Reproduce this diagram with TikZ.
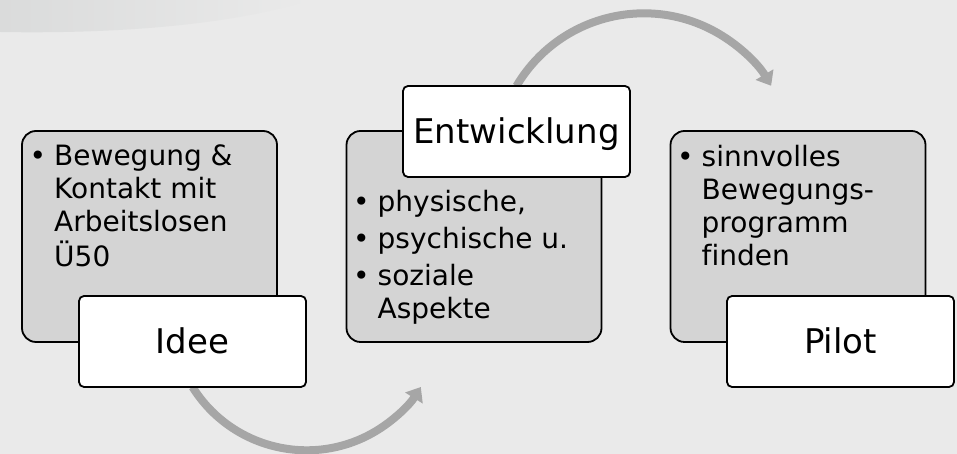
\documentclass[tikz,border=0pt]{standalone}
\usepackage{fontspec}
\setmainfont{DejaVu Sans}[Ligatures=NoCommon]
\usetikzlibrary{arrows.meta,backgrounds}

\definecolor{bgcol}{RGB}{234,234,234}
\definecolor{bandgray}{RGB}{218,219,219}
\definecolor{panelgray}{RGB}{212,212,212}
\definecolor{arrowgray}{RGB}{166,166,166}

\begin{document}
\begin{tikzpicture}[x=1pt,y=1pt,
  panel/.style={draw=black, line width=1.8pt, fill=panelgray, rounded corners=14pt,
    minimum width=255pt, minimum height=211pt, inner sep=0pt, outer sep=0pt},
  tag/.style={draw=black, line width=1.8pt, fill=white, rounded corners=5pt,
    minimum width=227pt, minimum height=91pt, inner sep=0pt, outer sep=0pt,
    text height=25pt, text depth=0pt, font=\fontsize{34}{40}\selectfont},
  body/.style={anchor=base west, inner sep=0pt, font=\fontsize{28}{32.7}\selectfont},
  cycle arrow/.style={draw=arrowgray, line width=8pt,
    -{Triangle[length=13pt,width=20pt]}}
]
% three stages: grey panel, bullet text, white title tag
\node[panel] (b1) at (149.5,217.5) {};
\node[body] (t1) at (54,288) {\begin{tabular}[t]{@{}l@{}}
  \llap{•\hspace{8pt}}Bewegung \&\\
  Kontakt mit\\
  Arbeitslosen\\
  Ü50
\end{tabular}};
\node[tag] (h1) at (192.5,112.5) {Idee};

\node[panel] (b2) at (474,217.5) {};
\node[body] (t2) at (377.5,242) {\begin{tabular}[t]{@{}l@{}}
  \llap{•\hspace{8pt}}physische,\\[4pt]
  \llap{•\hspace{8pt}}psychische u.\\[4pt]
  \llap{•\hspace{8pt}}soziale\\
  Aspekte
\end{tabular}};
\node[tag] (h2) at (516.5,322.5) {Entwicklung};

\node[panel] (b3) at (798,217.5) {};
\node[body] (t3) at (701.5,287) {\begin{tabular}[t]{@{}l@{}}
  \llap{•\hspace{8pt}}sinnvolles\\
  Bewegungs-\\
  programm\\
  finden
\end{tabular}};
\node[tag] (h3) at (840.5,112.5) {Pilot};

\begin{pgfonlayer}{background}
  % page and the soft band in the upper left corner
  \path[use as bounding box, fill=bgcol] (0,0) rectangle (957,454);
  \shade[left color=bandgray, right color=bgcol]
    (0,454) -- (0,422) .. controls (110,420) and (230,428) .. (310,454) -- cycle;
  % curved arrows leading from one stage to the next
  \draw[cycle arrow] (h1.south) arc[start angle=212, end angle=328, radius=134.6];
  \draw[cycle arrow] (h2.north) arc[start angle=149.4, end angle=30.7, radius=148];
\end{pgfonlayer}
\end{tikzpicture}
\end{document}
